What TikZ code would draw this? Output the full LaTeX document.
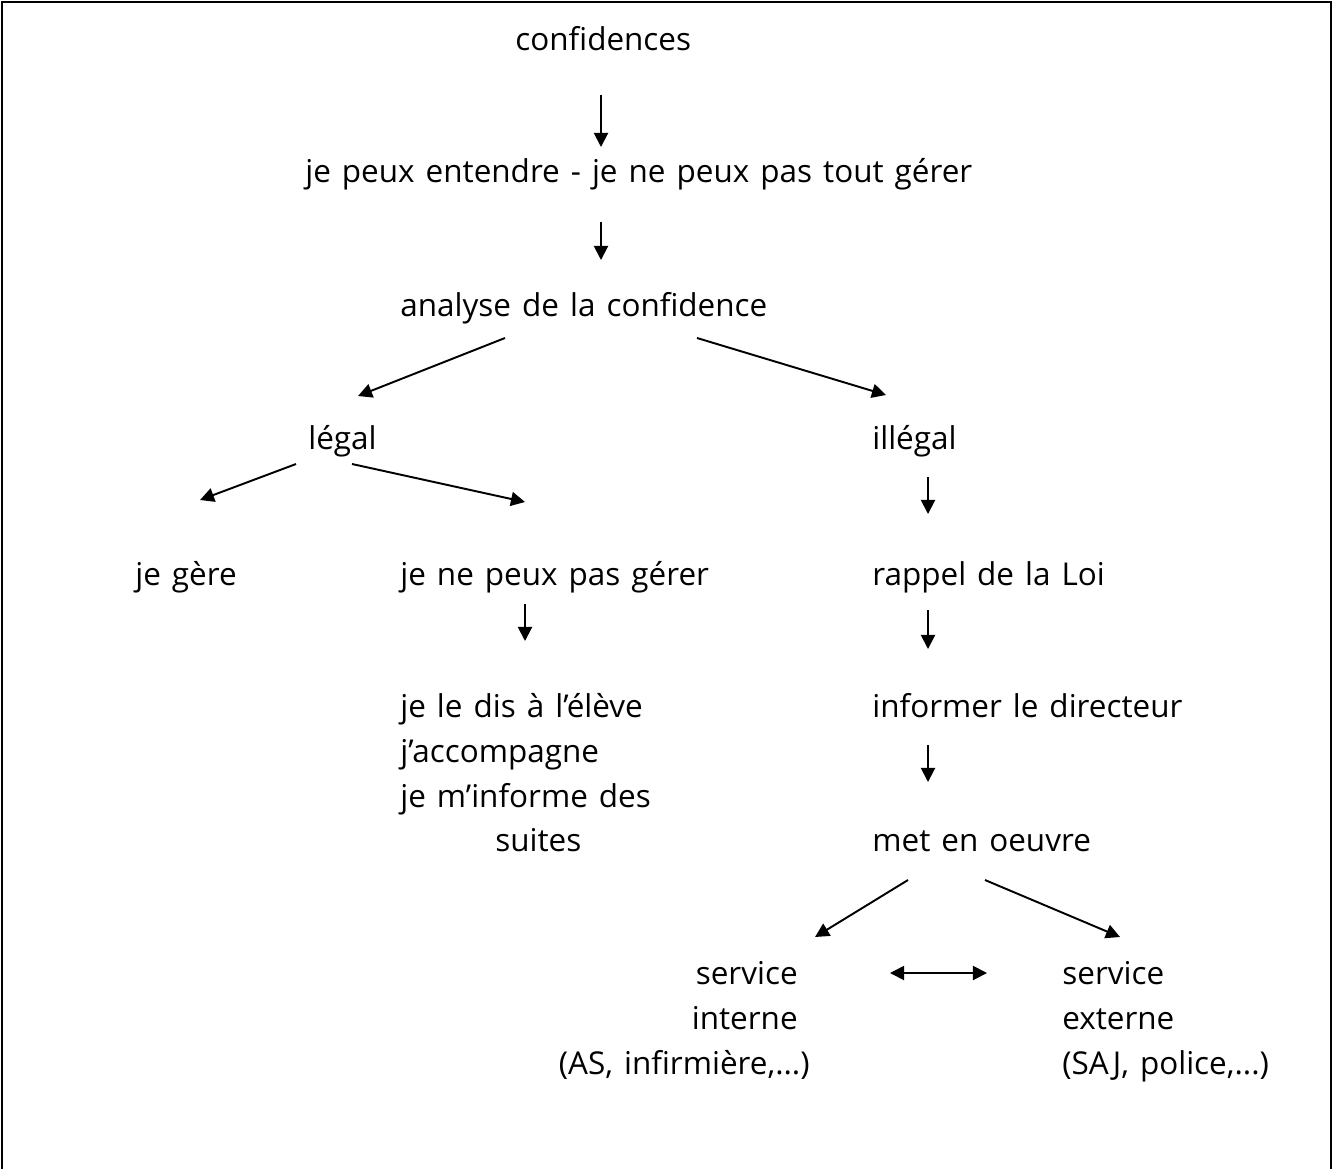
\documentclass[tikz,border=0pt]{standalone}
\usepackage{fontspec}
\setmainfont[WordSpace=1.35]{Open Sans}
\usetikzlibrary{arrows.meta}
\begin{document}
\begin{tikzpicture}[x=0.02cm,y=-0.02cm,
  lbl/.style={anchor=base west,inner sep=0pt,font=\fontsize{17.9}{21}\selectfont},
  lblr/.style={anchor=base east,inner sep=0pt,font=\fontsize{17.9}{21}\selectfont},
  arr/.style={line width=1.1pt,-{Triangle[length=8pt,width=8pt]}},
  darr/.style={line width=1.1pt,{Triangle[length=8pt,width=8pt]}-{Triangle[length=8pt,width=8pt]}}]
\useasboundingbox (0,0) rectangle (1334,1169);
\draw[line width=1.2pt] (2,1169) -- (2,2) -- (1331,2) -- (1331,1169);
% texts
\node[lbl] (conf) at (515,51) {confidences};
\node[lbl] (entendre) at (305,183) {je peux entendre - je ne peux pas tout gérer};
\node[lbl] (analyse) at (400,316) {analyse de la confidence};
\node[lbl] (legal) at (308,449) {légal};
\node[lbl] (illegal) at (872,449) {illégal};
\node[lbl] (gere) at (135,585) {je gère};
\node[lbl] (negere) at (400,585) {je ne peux pas gérer};
\node[lbl] (rappel) at (872,585) {rappel de la Loi};
\node[lbl] (dis) at (400,717) {je le dis à l’élève};
\node[lbl] (accomp) at (400,762) {j’accompagne};
\node[lbl] (informe) at (400,807) {je m’informe des};
\node[lbl] (suites) at (495,851) {suites};
\node[lbl] (directeur) at (872,717) {informer le directeur};
\node[lbl] (oeuvre) at (872,851) {met en oeuvre};
\node[lblr] (sint) at (798,984) {service};
\node[lblr] (intern) at (798,1029) {interne};
\node[lblr] (asinf) at (810,1074) {(AS, infirmière,...)};
\node[lbl] (sext) at (1062,984) {service};
\node[lbl] (extern) at (1062,1029) {externe};
\node[lbl] (saj) at (1062,1074) {(SAJ, police,...)};
% connector ends
\coordinate (c1a) at (601,95);  \coordinate (c1b) at (601,147);
\coordinate (c2a) at (601,222); \coordinate (c2b) at (601,260);
\coordinate (c3a) at (505,338); \coordinate (c3b) at (358,396);
\coordinate (c4a) at (697,338); \coordinate (c4b) at (886,395);
\coordinate (c5a) at (296,464); \coordinate (c5b) at (200,500);
\coordinate (c6a) at (352,464); \coordinate (c6b) at (525,502);
\coordinate (c7a) at (928,477); \coordinate (c7b) at (928,514);
\coordinate (c8a) at (525,604); \coordinate (c8b) at (525,641);
\coordinate (c9a) at (928,610); \coordinate (c9b) at (928,649);
\coordinate (c10a) at (928,745); \coordinate (c10b) at (928,782);
\coordinate (c11a) at (908,880); \coordinate (c11b) at (815,937);
\coordinate (c12a) at (985,880); \coordinate (c12b) at (1120,937);
\coordinate (c13a) at (890,973); \coordinate (c13b) at (987,973);
\draw[arr] (c1a) -- (c1b);
\draw[arr] (c2a) -- (c2b);
\draw[arr] (c3a) -- (c3b);
\draw[arr] (c4a) -- (c4b);
\draw[arr] (c5a) -- (c5b);
\draw[arr] (c6a) -- (c6b);
\draw[arr] (c7a) -- (c7b);
\draw[arr] (c8a) -- (c8b);
\draw[arr] (c9a) -- (c9b);
\draw[arr] (c10a) -- (c10b);
\draw[arr] (c11a) -- (c11b);
\draw[arr] (c12a) -- (c12b);
\draw[darr] (c13a) -- (c13b);
\end{tikzpicture}
\end{document}
